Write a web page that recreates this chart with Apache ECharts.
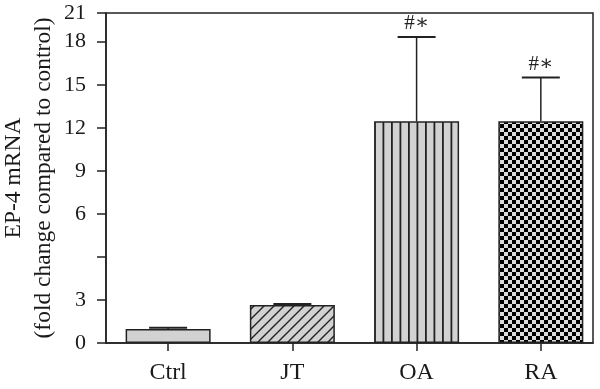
<!DOCTYPE html>
<html>
<head>
<meta charset="utf-8">
<script src="https://cdn.jsdelivr.net/npm/echarts@6/dist/echarts.min.js"></script>
<style>html,body{margin:0;padding:0;background:#fff}#c{width:600px;height:389px}</style>
</head>
<body>
<div id="c"></div>
<script>
// ---- data ----
const categories = ['Ctrl', 'JT', 'OA', 'RA'];
const means = [0.97, 2.64, 12.45, 12.45];
const errors = [0.10, 0.07, 6.05, 3.05];
const marks = ['', '', '#\u2217', '#\u2217'];
// y axis: tick positions (axis scale) and the labels printed at them
const yTickPositions = [0, 3, 6, 9, 12, 15, 18, 21, 23];
const yTickLabels = ['0', '3', '', '6', '9', '12', '15', '18', '21'];

// map a labelled value onto the axis scale through the labelled ticks
const pairs = [];
yTickPositions.forEach((p, i) => { if (yTickLabels[i] !== '') pairs.push([+yTickLabels[i], p]); });
function toAxis(v) {
  for (let i = 1; i < pairs.length; i++) {
    const a = pairs[i - 1], b = pairs[i];
    if (v <= b[0] || i === pairs.length - 1) {
      return a[1] + (v - a[0]) * (b[1] - a[1]) / (b[0] - a[0]);
    }
  }
}

// ---- fill patterns ----
const GRAY = '#d2d2d2', INK = '#222';
function solid() { return GRAY; }
function hatch() {
  const c = document.createElement('canvas'); c.width = 10; c.height = 10;
  const g = c.getContext('2d');
  g.fillStyle = GRAY; g.fillRect(0, 0, 10, 10);
  g.strokeStyle = INK; g.lineWidth = 1.4;
  g.beginPath();
  g.moveTo(-1, 11); g.lineTo(11, -1);
  g.moveTo(-6, 6); g.lineTo(6, -6);
  g.moveTo(4, 16); g.lineTo(16, 4);
  g.stroke();
  return { image: c, repeat: 'repeat' };
}
function vlines() {
  const c = document.createElement('canvas'); c.width = 17; c.height = 4;
  const g = c.getContext('2d');
  g.fillStyle = GRAY; g.fillRect(0, 0, 17, 4);
  g.fillStyle = INK; g.fillRect(0, 0, 1.8, 4); g.fillRect(8.5, 0, 1.8, 4);
  return { image: c, repeat: 'repeat' };
}
function checker() {
  const c = document.createElement('canvas'); c.width = 8; c.height = 8;
  const g = c.getContext('2d');
  g.fillStyle = '#dcdcdc'; g.fillRect(0, 0, 8, 8);
  g.fillStyle = '#000'; g.fillRect(0, 0, 4, 4); g.fillRect(4, 4, 4, 4);
  return { image: c, repeat: 'repeat' };
}
const fills = [solid(), hatch(), vlines(), checker()];

const chart = echarts.init(document.getElementById('c'), null, { renderer: 'canvas' });
const FONT = 'Liberation Serif';

chart.setOption({
  animation: false,
  backgroundColor: '#fff',
  grid: { left: 106, right: 7, top: 13, bottom: 46, containLabel: false, outerBoundsMode: 'none',
    show: true, borderColor: INK, borderWidth: 1.5, backgroundColor: 'transparent' },
  xAxis: {
    type: 'value', min: -0.5, max: 3.42,
    splitLine: { show: false },
    axisLine: { onZero: false, lineStyle: { color: INK, width: 1.5 } },
    axisTick: { show: true, customValues: [0, 1, 2, 3], length: 8, lineStyle: { color: INK, width: 1.5 } },
    axisLabel: { customValues: [0, 1, 2, 3], formatter: v => categories[Math.round(v)], margin: 18,
      color: '#1a1a1a', fontFamily: FONT, fontSize: 24 }
  },
  yAxis: {
    type: 'value', min: 0, max: 23,
    name: 'EP-4 mRNA\n(fold change compared to control)',
    nameLocation: 'middle', nameRotate: 90, nameGap: 47, nameMoveOverlap: false,
    nameTextStyle: { fontFamily: FONT, fontSize: 23.5, color: '#1a1a1a', lineHeight: 30 },
    splitLine: { show: false },
    axisLine: { onZero: false, lineStyle: { color: INK, width: 1.5 } },
    axisTick: { show: true, customValues: yTickPositions, length: 9, lineStyle: { color: INK, width: 1.5 } },
    axisLabel: {
      customValues: yTickPositions.filter((p, i) => yTickLabels[i] !== ''),
      formatter: v => yTickLabels[yTickPositions.indexOf(v)],
      margin: 20, color: '#1a1a1a', fontFamily: FONT, fontSize: 22
    }
  },
  series: [
    {
      type: 'bar', barWidth: 85,
      data: means.map((m, i) => ({ value: [i, toAxis(m)], itemStyle: { color: fills[i] } })),
      itemStyle: { borderColor: INK, borderWidth: 1.5 },
      z: 2
    },
    {
      type: 'custom', z: 3,
      data: means.map((m, i) => [i, toAxis(m), toAxis(m + errors[i])]),
      renderItem: (params, api) => {
        const i = params.dataIndex;
        const x = api.value(0);
        const b = api.coord([x, api.value(1)]);
        const t = api.coord([x, api.value(2)]);
        const children = [
          { type: 'line', shape: { x1: b[0], y1: b[1], x2: t[0], y2: t[1] }, style: { stroke: INK, lineWidth: 1.5 } },
          { type: 'line', shape: { x1: t[0] - 19, y1: t[1], x2: t[0] + 19, y2: t[1] }, style: { stroke: INK, lineWidth: 2 } }
        ];
        if (marks[i]) {
          children.push({ type: 'text', x: t[0], y: t[1] - 3,
            style: { text: marks[i], align: 'center', verticalAlign: 'bottom', fill: '#222', font: '21px "' + FONT + '", "DejaVu Serif"' } });
        }
        return { type: 'group', children };
      }
    }
  ]
});
</script>
</body>
</html>
